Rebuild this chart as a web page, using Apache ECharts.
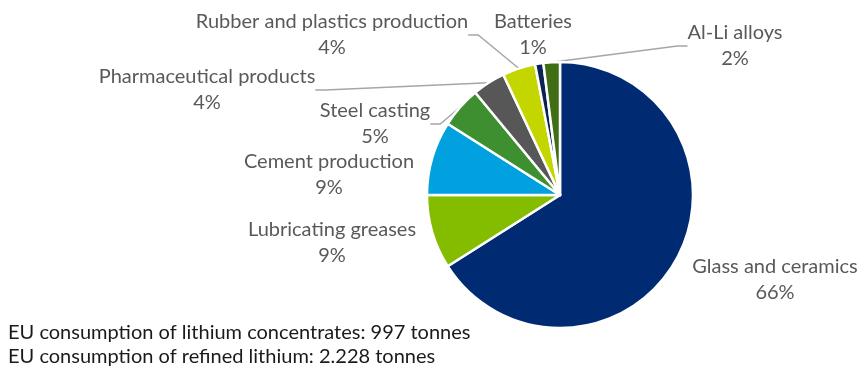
<!DOCTYPE html>
<html><head><meta charset="utf-8">
<script src="https://cdn.jsdelivr.net/npm/echarts@6/dist/echarts.min.js"></script>
<style>html,body{margin:0;padding:0;background:#fff}#c{width:860px;height:367px}</style>
</head><body><div id="c"></div>
<script>
const categories = ["Glass and ceramics","Lubricating greases","Cement production","Steel casting","Pharmaceutical products","Rubber and plastics production","Batteries","Al-Li alloys"];
const shares = [66, 9, 9, 5, 4, 4, 1, 2];
const colors = ["#002B72","#84BD00","#00A1DE","#3D8F2F","#575757","#C4D600","#0B2352","#3F6E14"];
const notes = ["EU consumption of lithium concentrates: 997 tonnes","EU consumption of refined lithium: 2.228 tonnes"];
// label anchor positions (layout only)
const labelPos = [[775,280],[332,243],[329,175],[375,124],[207,90],[332,35],[533,35],[735,46]];

const chart = echarts.init(document.getElementById('c'));
const font = 'Lato, "Open Sans", sans-serif';
chart.setOption({
  animation:false,
  series:[{
    type:'pie',
    center:[560,195],
    radius:[0,133],
    startAngle:90,
    clockwise:true,
    itemStyle:{borderColor:'#fff',borderWidth:2.5},
    label:{show:true,formatter:p=>p.name+'\n'+p.value+'%',color:'#595959',fontFamily:font,fontSize:20,lineHeight:26,align:'center',overflow:'none'},
    labelLine:{show:true,lineStyle:{color:'#A6A6A6',width:1.5},length:10,length2:10},
    labelLayout:function(p){const q=labelPos[p.dataIndex];return {x:q[0],y:q[1],align:'center',verticalAlign:'middle'};},
    data:categories.map((n,i)=>({name:n,value:shares[i],itemStyle:{color:colors[i]},
      labelLine:{show:[3,4,5,7].indexOf(i)>=0}}))
  }],
  graphic:[
    {type:'text',left:8,top:323,style:{text:notes[0],font:'20px '+font,fill:'#1a1a1a'}},
    {type:'text',left:8,top:347,style:{text:notes[1],font:'20px '+font,fill:'#1a1a1a'}}
  ]
});
</script></body></html>
